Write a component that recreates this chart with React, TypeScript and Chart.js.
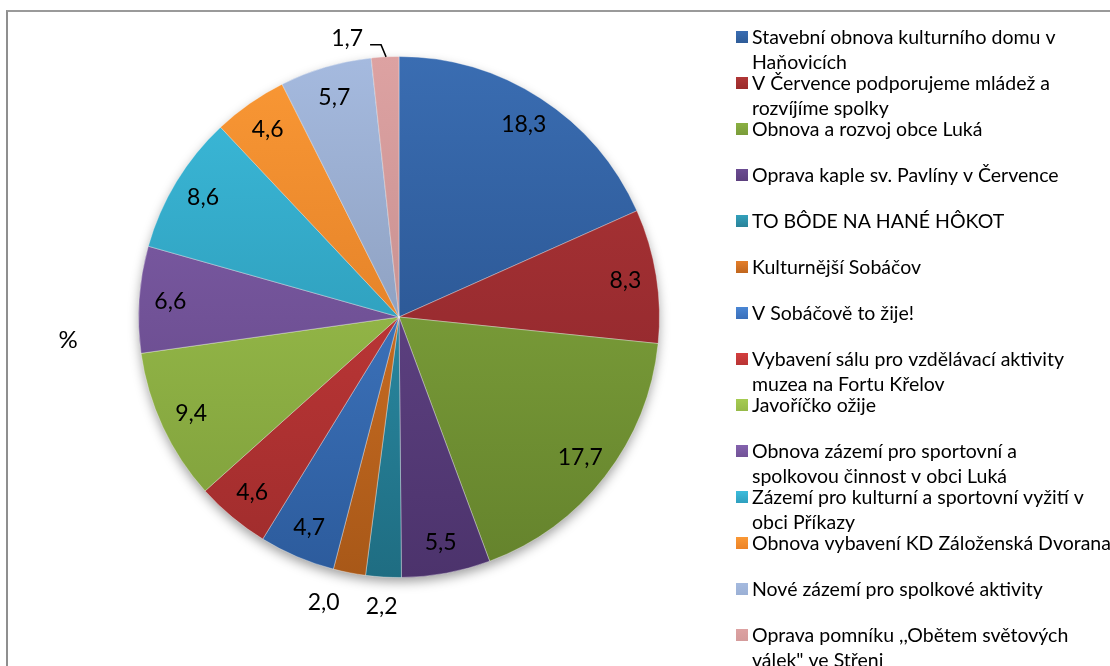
import React, { useEffect, useRef } from "react";
import { Chart, registerables } from "chart.js";
Chart.register(...registerables);

// ---- data ----
const categories: string[] = [
  "Stavební obnova kulturního domu v\nHaňovicích",
  "V Července podporujeme mládež a\nrozvíjíme spolky",
  "Obnova a rozvoj obce Luká",
  "Oprava kaple sv. Pavlíny v Července",
  "TO BÔDE NA HANÉ HÔKOT",
  "Kulturnější Sobáčov",
  "V Sobáčově to žije!",
  "Vybavení sálu pro vzdělávací aktivity\nmuzea na Fortu Křelov",
  "Javoříčko ožije",
  "Obnova zázemí pro sportovní a\nspolkovou činnost v obci Luká",
  "Zázemí pro kulturní a sportovní vyžití v\nobci Příkazy",
  "Obnova vybavení KD Záloženská Dvorana",
  "Nové zázemí pro spolkové aktivity",
  "Oprava pomníku ,,Obětem světových\nválek\" ve Střeni",
];
const values: number[] = [18.3, 8.3, 17.7, 5.5, 2.2, 2.0, 4.7, 4.6, 9.4, 6.6, 8.6, 4.6, 5.7, 1.7];
const axisTitle = "%";

// ---- styles ----
const lightColors = [
  "#3A6DB2", "#B03636", "#8AB042", "#6B4C92", "#32A0BB", "#E47E2A", "#4A86D4",
  "#D43E3E", "#A6CC52", "#8462AE", "#3CBCDC", "#FA9835", "#A5BADF", "#DDA2A2",
];
const darkColors = [
  "#21477E", "#84222A", "#64822C", "#4C336C", "#1F6D82", "#A85818", "#2C5B9C",
  "#9E2C2C", "#7C9C3A", "#5E4280", "#2588A4", "#D2701E", "#7A8AA6", "#B58282",
];
const legendSwatch = [
  "#2E5C98", "#9A2B2B", "#7A9C3A", "#5C3F7E", "#2A8299", "#C0661E", "#3A6FBA",
  "#B83434", "#96BA48", "#725296", "#2E9FBE", "#EC8327", "#9BB0D5", "#D49B9B",
];
const FONT = "Lato, 'Open Sans', sans-serif";

const fmt = (v: number) => v.toFixed(1).replace(".", ",");

const customPlugin = {
  id: "customDecor",
  beforeDatasetsDraw(chart: any) {
    const meta = chart.getDatasetMeta(0);
    const a = meta.data[0];
    if (!a) return;
    const ctx = chart.ctx;
    ctx.save();
    ctx.shadowColor = "rgba(0,0,0,0.4)";
    ctx.shadowBlur = 12;
    ctx.shadowOffsetY = 5;
    ctx.beginPath();
    ctx.arc(a.x, a.y, a.outerRadius - 1, 0, Math.PI * 2);
    ctx.fillStyle = "#777";
    ctx.fill();
    ctx.restore();
  },
  afterDatasetsDraw(chart: any) {
    const ctx = chart.ctx;
    const meta = chart.getDatasetMeta(0);
    const data = chart.data.datasets[0].data as number[];
    const total = data.reduce((s, v) => s + v, 0);
    ctx.save();
    ctx.fillStyle = "#000";
    ctx.font = `23px ${FONT}`;
    ctx.textAlign = "center";
    ctx.textBaseline = "middle";
    const outs: { x: number; y: number }[] = [];
    meta.data.forEach((arc: any, i: number) => {
      const mid = (arc.startAngle + arc.endAngle) / 2;
      const R = arc.outerRadius;
      const text = fmt(data[i]);
      const cos = Math.cos(mid);
      const sin = Math.sin(mid);
      if (data[i] / total >= 0.03) {
        const r = R * 0.88;
        ctx.fillText(text, arc.x + cos * r, arc.y + sin * r);
      } else if (sin < 0) {
        // upper half: leader line
        const ex = arc.x + cos * R;
        const ey = arc.y + sin * R;
        ctx.beginPath();
        ctx.strokeStyle = "#000";
        ctx.lineWidth = 1.5;
        ctx.moveTo(ex + 1, ey);
        ctx.lineTo(ex - 4, ey - 12);
        ctx.lineTo(ex - 15, ey - 12);
        ctx.stroke();
        ctx.textAlign = "right";
        ctx.fillText(text, ex - 22, ey - 18);
        ctx.textAlign = "center";
      } else {
        const r = R + 30;
        let x = arc.x + cos * r;
        const y = arc.y + sin * r;
        for (const o of outs) {
          if (Math.abs(o.y - y) < 22 && Math.abs(o.x - x) < 58) {
            x = o.x + (x < o.x ? -58 : 58);
          }
        }
        outs.push({ x, y });
        ctx.fillText(text, x, y);
      }
    });
    ctx.restore();

    // axis-like title
    ctx.save();
    ctx.fillStyle = "#000";
    ctx.font = `24px ${FONT}`;
    ctx.textAlign = "center";
    ctx.textBaseline = "middle";
    ctx.fillText(axisTitle, 68, 340);
    ctx.restore();

    // legend
    ctx.save();
    ctx.font = `19.5px ${FONT}`;
    ctx.textAlign = "left";
    ctx.textBaseline = "alphabetic";
    const labels = chart.data.labels as string[];
    labels.forEach((lab, i) => {
      const base = 44 + i * 46;
      const sg = ctx.createLinearGradient(0, base - 13, 0, base - 1);
      sg.addColorStop(0, lightColors[i]);
      sg.addColorStop(1, legendSwatch[i]);
      ctx.fillStyle = sg;
      ctx.fillRect(736, base - 13, 12, 12);
      ctx.fillStyle = "#000";
      lab.split("\n").forEach((line, k) => {
        ctx.fillText(line, 752, base + k * 25);
      });
    });
    ctx.restore();
  },
};

export default function App() {
  const ref = useRef<HTMLCanvasElement | null>(null);
  useEffect(() => {
    if (!ref.current) return;
    const chart = new Chart(ref.current, {
      type: "pie",
      data: {
        labels: categories,
        datasets: [
          {
            data: values,
            backgroundColor: (c: any) => {
              const chart = c.chart;
              const area = chart.chartArea;
              const i = c.dataIndex;
              if (!area || i === undefined) return legendSwatch[i ?? 0];
              const cy = (area.top + area.bottom) / 2;
              const r = Math.min(area.width, area.height) / 2;
              const g = chart.ctx.createLinearGradient(0, cy - r, 0, cy + r);
              g.addColorStop(0, lightColors[i]);
              g.addColorStop(1, darkColors[i]);
              return g;
            },
            borderColor: "rgba(255,255,255,0.35)",
            borderWidth: 1,
          },
        ],
      },
      options: {
        responsive: false,
        animation: false,
        layout: { padding: { left: 138, top: 56, right: 450, bottom: 88 } },
        plugins: {
          legend: { display: false },
          tooltip: { enabled: false },
        },
      },
      plugins: [customPlugin],
    });
    return () => chart.destroy();
  }, []);
  return (
    <div style={{ position: "fixed", left: 0, top: 0, width: 1110, height: 666, background: "#fff", overflow: "hidden" }}>
      <div
        style={{
          position: "absolute",
          left: 6,
          top: 10,
          width: 1200,
          height: 800,
          borderLeft: "2px solid #8f8f8f",
          borderTop: "2px solid #9a9a9a",
        }}
      />
      <canvas ref={ref} width={1110} height={666} style={{ position: "absolute", left: 0, top: 0, width: 1110, height: 666 }} />
    </div>
  );
}
